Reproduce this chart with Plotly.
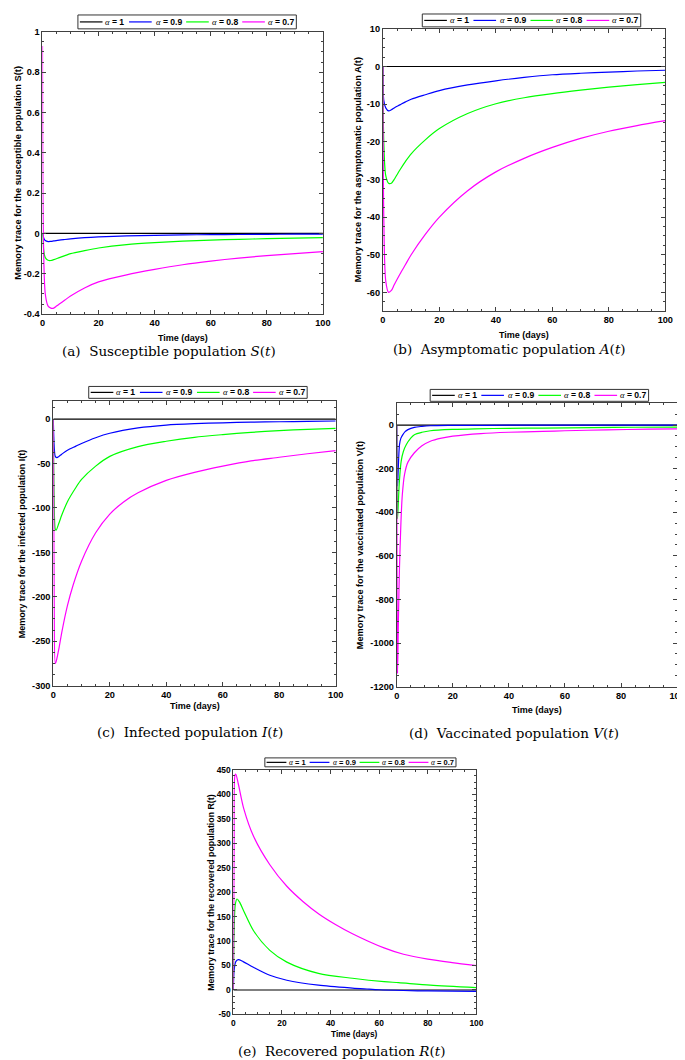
import plotly.graph_objects as go

W, H = 685, 1060

# ---------------- data ----------------
alpha_labels = ["1", "0.9", "0.8", "0.7"]
colors = ["#000000", "#0000FF", "#00FF00", "#FF00FF"]

# (a) Susceptible S(t)
S_t_1 = [0, 100]
S_1 = [0, 0]
S_t_09 = [0, 0.5, 1, 2, 3, 4, 6, 8, 10, 15, 20, 30, 40, 50, 60, 70, 80, 90, 100]
S_09 = [0, -0.025, -0.035, -0.04, -0.039, -0.037, -0.033, -0.03, -0.027, -0.021, -0.017, -0.012, -0.009, -0.007, -0.006, -0.005, -0.004, -0.0035, -0.003]
S_t_08 = [0, 0.5, 1, 2, 3, 4, 6, 8, 10, 15, 20, 30, 40, 50, 60, 70, 80, 90, 100]
S_08 = [0, -0.09, -0.12, -0.133, -0.134, -0.13, -0.12, -0.11, -0.1, -0.085, -0.072, -0.055, -0.045, -0.038, -0.033, -0.029, -0.026, -0.023, -0.021]
S_t_07 = [0, 0.3, 1, 2, 3, 4, 5, 6, 8, 10, 15, 20, 30, 40, 50, 60, 70, 80, 90, 100]
S_07 = [0.93, 0.0, -0.30, -0.36, -0.37, -0.37, -0.36, -0.35, -0.33, -0.31, -0.27, -0.24, -0.205, -0.178, -0.155, -0.137, -0.122, -0.11, -0.10, -0.09]

# (b) Asymptomatic A(t)
A_t_1 = [0, 100]
A_1 = [0, 0]
A_t = [0, 0.3, 1, 2, 3, 4, 6, 8, 10, 15, 20, 30, 40, 50, 60, 70, 80, 90, 100]
A_09 = [0, -9, -11, -11.8, -11.5, -11, -10.2, -9.4, -8.7, -7.5, -6.4, -4.9, -3.8, -2.9, -2.2, -1.8, -1.5, -1.2, -1.0]
A_08 = [0, -20, -29, -31, -31, -30, -27.5, -25.2, -23.2, -19.5, -16.5, -12.5, -9.9, -8.3, -7.2, -6.3, -5.5, -4.8, -4.2]
A_07 = [0, -40, -57, -60, -59.5, -58, -55.2, -52.6, -50, -44.6, -40, -33, -28, -24.4, -21.5, -19.1, -17.2, -15.7, -14.4]

# (c) Infected I(t)
I_t_1 = [0, 100]
I_1 = [0, 0]
I_t_09 = [0, 0.3, 0.7, 1.3, 2, 3, 5, 8, 10, 15, 20, 30, 40, 50, 60, 70, 80, 90, 100]
I_09 = [0, -30, -42, -43.5, -42, -39.5, -35, -30.5, -27.5, -21, -16, -10, -6.8, -5.2, -4.2, -3.5, -3, -2.6, -2.2]
I_t_08 = [0, 0.3, 0.7, 1, 2, 3, 5, 8, 10, 15, 20, 30, 40, 50, 60, 70, 80, 90, 100]
I_08 = [0, -90, -124, -125, -117, -108, -93, -77, -68, -53, -42, -31, -25, -20.5, -17.5, -15, -13, -11.6, -10.4]
I_t_07 = [0, 0.3, 0.7, 1, 2, 3, 5, 7, 10, 15, 20, 25, 30, 40, 50, 60, 70, 80, 90, 100]
I_07 = [0, -200, -275, -273, -258, -240, -210, -187, -160, -128, -107, -93, -83, -69, -60, -53, -47, -43, -39, -35.5]

# (d) Vaccinated V(t)
V_t_1 = [0, 100]
V_1 = [0, 0]
V_t_09 = [0, 0.1, 0.3, 0.5, 1, 1.5, 2.2, 3, 4, 6.3, 9, 12, 20, 40, 60, 80, 100]
V_09 = [0, -150, -280, -220, -90, -60, -44, -30, -21, -10.6, -6, -3, -1.5, -0.7, -0.4, -0.3, -0.2]
V_t_08 = [0, 0.1, 0.3, 0.6, 1, 1.6, 2.4, 3.4, 5, 6.3, 9, 12, 20, 28, 40, 52, 70, 85, 100]
V_08 = [0, -250, -430, -350, -250, -165, -120, -90, -60, -44, -33, -26, -20, -17, -15, -13.6, -11.5, -10, -9]
V_t_07 = [0, 0.1, 0.3, 0.6, 1, 1.5, 2, 2.8, 4, 6.3, 9, 12, 16, 20, 30, 40, 52, 60, 75, 90, 100]
V_07 = [0, -600, -1140, -900, -650, -450, -320, -226, -170, -127, -95, -74, -60, -51, -39, -33, -29, -26, -22, -18.5, -17]

# (e) Recovered R(t)
R_t_1 = [0, 100]
R_1 = [0, 0]
R_t_09 = [0, 0.3, 1, 2, 4, 8, 15, 22, 35, 49, 55, 60, 70, 80, 100]
R_09 = [0, 40, 58, 62, 58, 47, 30, 20, 10, 4, 2, 0.5, -1, -2, -3]
R_t_08 = [0, 0.3, 0.8, 1.5, 2.5, 4.3, 8.3, 15, 22, 35, 49, 62, 68, 81, 100]
R_08 = [0, 120, 175, 186, 180, 161, 121, 81, 57, 34, 24, 17, 15, 10, 5]
R_t_07 = [0, 0.3, 0.7, 1, 2, 4.3, 8.3, 15, 22, 28.6, 35.3, 42, 49, 62, 70, 80, 90, 100]
R_07 = [0, 300, 440, 441, 422, 370, 314, 256, 212, 181, 155, 134, 115, 86, 73, 63, 56, 50]

x_ticks = [0, 20, 40, 60, 80, 100]
x_ticktext = ["0", "20", "40", "60", "80", "100"]
S_ticks = [-0.4, -0.2, 0, 0.2, 0.4, 0.6, 0.8, 1]
S_ticktext = ["-0.4", "-0.2", "0", "0.2", "0.4", "0.6", "0.8", "1"]
A_ticks = [-60, -50, -40, -30, -20, -10, 0, 10]
A_ticktext = ["-60", "-50", "-40", "-30", "-20", "-10", "0", "10"]
I_ticks = [-300, -250, -200, -150, -100, -50, 0]
I_ticktext = ["-300", "-250", "-200", "-150", "-100", "-50", "0"]
V_ticks = [-1200, -1000, -800, -600, -400, -200, 0]
V_ticktext = ["-1200", "-1000", "-800", "-600", "-400", "-200", "0"]
R_ticks = [-50, 0, 50, 100, 150, 200, 250, 300, 350, 400, 450]
R_ticktext = ["-50", "0", "50", "100", "150", "200", "250", "300", "350", "400", "450"]

y_titles = [
    "Memory trace for the susceptible population S(t)",
    "Memory trace for the asymptomatic population A(t)",
    "Memory trace for the infected population I(t)",
    "Memory trace for the vaccinated population V(t)",
    "Memory trace for the recovered population R(t)",
]
captions = [
    "(a)  Susceptible population <i>S</i>(<i>t</i>)",
    "(b)  Asymptomatic population <i>A</i>(<i>t</i>)",
    "(c)  Infected population <i>I</i>(<i>t</i>)",
    "(d)  Vaccinated population <i>V</i>(<i>t</i>)",
    "(e)  Recovered population <i>R</i>(<i>t</i>)",
]
x_title = "Time (days)"

# ---------------- layout geometry (pixels) ----------------
boxes = [(32, 317, 19, 304), (378, 665, 16, 301), (43, 330, 392, 679),
         (392, 677, 394, 680), (226, 473, 764, 1011)]
yranges = [[-0.4, 1], [-65, 10], [-300, 20], [-1200, 100], [-50, 450]]
yminor = [0.05, 2.5, 12.5, 50, 12.5]
# legend boxes: (left, top, bottom, scale)
legend_box = [(68, 2, 16, 1.0), (418, 1, 14, 1.0), (79, 377, 389, 1.0),
              (426, 380, 392, 1.0), (258, 752, 761, 0.875)]
leg_line_off = [2, 52, 110, 167]
leg_text_off = [26, 77, 134, 191]
leg_width = 222
ytitle_x = [7, 353, 12, 355, 203]
ytitle_size = [9.3, 9.3, 9.0, 9.2, 8.8]
tick_size = [9.2, 9.2, 9.2, 9.2, 8.4]
xtitle_y = [328, 325, 700, 704, 1031]
xtitle_size = [9, 9, 9, 9, 8.4]
caption_x = [161, 507, 182, 511, 336]
caption_y = [341, 339, 726, 727, 1048]

series = [
    [(S_t_1, S_1), (S_t_09, S_09), (S_t_08, S_08), (S_t_07, S_07)],
    [(A_t_1, A_1), (A_t, A_09), (A_t, A_08), (A_t, A_07)],
    [(I_t_1, I_1), (I_t_09, I_09), (I_t_08, I_08), (I_t_07, I_07)],
    [(V_t_1, V_1), (V_t_09, V_09), (V_t_08, V_08), (V_t_07, V_07)],
    [(R_t_1, R_1), (R_t_09, R_09), (R_t_08, R_08), (R_t_07, R_07)],
]
yticks = [(S_ticks, S_ticktext), (A_ticks, A_ticktext), (I_ticks, I_ticktext),
          (V_ticks, V_ticktext), (R_ticks, R_ticktext)]

SANS = "Liberation Sans, Arial, sans-serif"
SERIF = "DejaVu Serif, Liberation Serif, serif"
AXC = "#404040"


def fx(px):
    return px / W


def fy(py):
    return 1 - py / H


fig = go.Figure()
layout = dict(width=W, height=H, margin=dict(l=0, r=0, t=0, b=0),
              paper_bgcolor="white", plot_bgcolor="white", showlegend=False)
annotations = []
shapes = []

for i in range(5):
    n = "" if i == 0 else str(i + 1)
    xa, ya = "x" + n, "y" + n
    l, r, t, b = boxes[i]
    for k in range(4):
        tx, vy = series[i][k]
        fig.add_trace(go.Scatter(
            x=tx, y=vy, mode="lines", xaxis=xa, yaxis=ya,
            name="α = " + alpha_labels[k],
            line=dict(color=colors[k], width=1.2, shape="spline", smoothing=0.8),
            hoverinfo="skip"))
    common = dict(showline=True, linecolor=AXC, linewidth=1, mirror="allticks",
                  ticks="inside", ticklen=4, tickcolor=AXC, showgrid=False, zeroline=False,
                  tickfont=dict(family=SANS, size=tick_size[i], color="black", weight="bold"))
    layout["xaxis" + n] = dict(domain=[fx(l), fx(r)], anchor=ya, range=[0, 100],
                               tickmode="array", tickvals=x_ticks, ticktext=x_ticktext,
                               minor=dict(ticks="inside", ticklen=2, dtick=5, tickcolor=AXC),
                               **common)
    layout["yaxis" + n] = dict(domain=[fy(b), fy(t)], anchor=xa, range=yranges[i],
                               tickmode="array", tickvals=yticks[i][0], ticktext=yticks[i][1],
                               minor=dict(ticks="inside", ticklen=2, dtick=yminor[i], tickcolor=AXC),
                               **common)

    # legend (boxed, one row above the axes)
    bx, btop, bbot, sc = legend_box[i]
    ymid = (btop + bbot) / 2
    shapes.append(dict(type="rect", xref="paper", yref="paper",
                       x0=fx(bx), x1=fx(bx + leg_width * sc), y0=fy(bbot), y1=fy(btop),
                       line=dict(color="#333333", width=1), fillcolor="white", layer="above"))
    for k in range(4):
        lx0 = bx + leg_line_off[k] * sc
        shapes.append(dict(type="line", xref="paper", yref="paper",
                           x0=fx(lx0), x1=fx(lx0 + 23 * sc), y0=fy(ymid), y1=fy(ymid),
                           line=dict(color=colors[k], width=1.2), layer="above"))
        annotations.append(dict(
            x=fx(bx + leg_text_off[k] * sc), y=fy(ymid), xref="paper", yref="paper",
            text='<span style="font-family:Liberation Serif;font-weight:normal"><i>α</i></span> = ' + alpha_labels[k],
            showarrow=False, xanchor="left", yanchor="middle",
            font=dict(family=SANS, size=8.6 * sc, color="black", weight="bold")))

    annotations.append(dict(x=fx(ytitle_x[i]), y=fy((t + b) / 2), xref="paper", yref="paper",
                            text=y_titles[i], textangle=-90, showarrow=False,
                            font=dict(family=SANS, size=ytitle_size[i], color="black", weight="bold"),
                            xanchor="center", yanchor="middle"))
    annotations.append(dict(x=fx((l + r) / 2), y=fy(xtitle_y[i]), xref="paper", yref="paper",
                            text=x_title, showarrow=False,
                            font=dict(family=SANS, size=xtitle_size[i], color="black", weight="bold"),
                            xanchor="center", yanchor="middle"))
    annotations.append(dict(x=fx(caption_x[i]), y=fy(caption_y[i]), xref="paper", yref="paper",
                            text=captions[i], showarrow=False,
                            font=dict(family=SERIF, size=13.5, color="black"),
                            xanchor="center", yanchor="middle"))

layout["annotations"] = annotations
layout["shapes"] = shapes
fig.update_layout(**layout)
fig.write_html("out.html")
